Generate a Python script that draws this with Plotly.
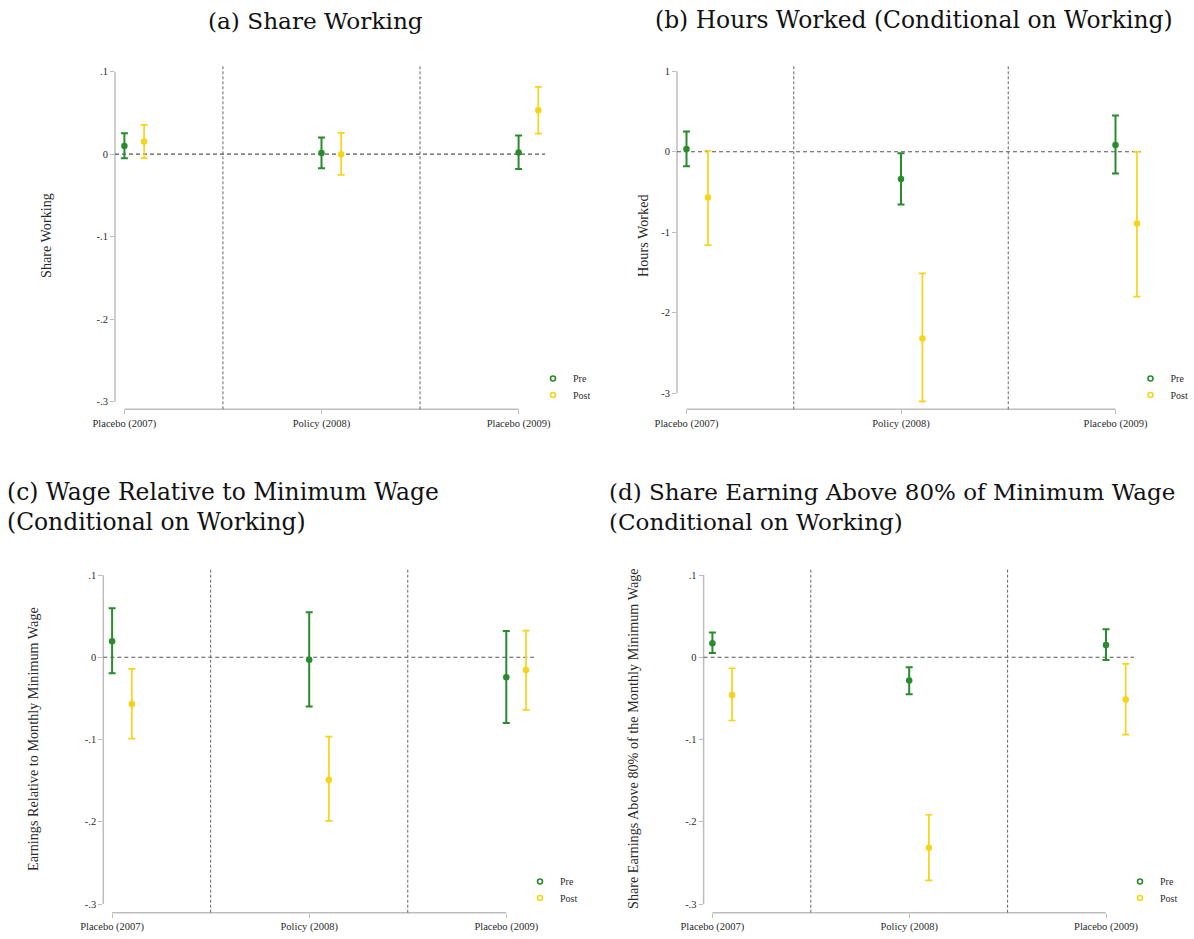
import plotly.graph_objects as go

# ---------------- data ----------------
categories = ["Placebo (2007)", "Policy (2008)", "Placebo (2009)"]
cat_pos = [0, 1, 2]
post_shift = 0.1

# (a) Share Working
a_pre = [0.0100, 0.0016, 0.0020]
a_pre_lo = [-0.0050, -0.0170, -0.0180]
a_pre_hi = [0.0255, 0.0202, 0.0226]
a_post = [0.0154, 0.0000, 0.0533]
a_post_lo = [-0.0048, -0.0250, 0.0250]
a_post_hi = [0.0356, 0.0259, 0.0816]

# (b) Hours Worked
b_pre = [0.033, -0.34, 0.083]
b_pre_lo = [-0.18, -0.655, -0.27]
b_pre_hi = [0.25, -0.02, 0.45]
b_post = [-0.57, -2.32, -0.89]
b_post_lo = [-1.16, -3.10, -1.80]
b_post_hi = [0.012, -1.51, 0.0]

# (c) Wage relative to minimum wage
c_pre = [0.0195, -0.0030, -0.0243]
c_pre_lo = [-0.0195, -0.0600, -0.0800]
c_pre_hi = [0.0596, 0.0547, 0.0320]
c_post = [-0.0567, -0.1490, -0.0154]
c_post_lo = [-0.0990, -0.1990, -0.0640]
c_post_hi = [-0.0142, -0.0965, 0.0324]

# (d) Share earning above 80% of minimum wage
d_pre = [0.0170, -0.0284, 0.0150]
d_pre_lo = [0.0053, -0.0450, -0.0032]
d_pre_hi = [0.0300, -0.0122, 0.0340]
d_post = [-0.0458, -0.2316, -0.0515]
d_post_lo = [-0.0769, -0.2713, -0.0940]
d_post_hi = [-0.0134, -0.1915, -0.0081]

ab_ticks = [0.1, 0.0, -0.1, -0.2, -0.3]
ab_ticktext = [".1", "0", "-.1", "-.2", "-.3"]
b_ticks = [1, 0, -1, -2, -3]
b_ticktext = ["1", "0", "-1", "-2", "-3"]

series_names = ["Pre", "Post"]

titles = [
    "(a) Share Working",
    "(b) Hours Worked (Conditional on Working)",
    "(c) Wage Relative to Minimum Wage<br>(Conditional on Working)",
    "(d) Share Earning Above 80% of Minimum Wage<br>(Conditional on Working)",
]
ytitles = [
    "Share Working",
    "Hours Worked",
    "Earnings Relative to Monthly Minimum Wage",
    "Share Earnings Above 80% of the Monthly Minimum Wage",
]

# ---------------- layout geometry (pixels) ----------------
W, H = 1194, 939
GREEN = "#2a8a2e"
YELLOW = "#f7d31a"
AXC = "#bdbdbd"
DASH = "#666666"
TXT = "#2a2a2a"

panels = [
    dict(data=(a_pre, a_pre_lo, a_pre_hi, a_post, a_post_lo, a_post_hi),
         yax=115, c0=124.4, c2=518.6, right=545, top=65, bottom=409.3,
         yt=(0.1, 71.7), yb=(-0.3, 401.7), ticks=(ab_ticks, ab_ticktext),
         title_xy=(315, 20), title_anchor="center", title_size=23.2,
         ytitle_xy=(46, 236), leg=(561, 378, 394.5)),
    dict(data=(b_pre, b_pre_lo, b_pre_hi, b_post, b_post_lo, b_post_hi),
         yax=677, c0=686.5, c2=1115.5, right=1141, top=65, bottom=409.3,
         yt=(1, 71.2), yb=(-3, 393.3), ticks=(b_ticks, b_ticktext),
         title_xy=(913.5, 20), title_anchor="center", title_size=23.4,
         ytitle_xy=(643, 236), leg=(1158.5, 378, 394.5)),
    dict(data=(c_pre, c_pre_lo, c_pre_hi, c_post, c_post_lo, c_post_hi),
         yax=103.3, c0=112.1, c2=506.3, right=534, top=568, bottom=912.7,
         yt=(0.1, 575), yb=(-0.3, 904), ticks=(ab_ticks, ab_ticktext),
         title_xy=(5, 507), title_anchor="left", title_size=23.4,
         ytitle_xy=(33, 739), leg=(548, 881, 897.5)),
    dict(data=(d_pre, d_pre_lo, d_pre_hi, d_post, d_post_lo, d_post_hi),
         yax=703.6, c0=712.4, c2=1106, right=1134, top=568, bottom=912.7,
         yt=(0.1, 575), yb=(-0.3, 904), ticks=(ab_ticks, ab_ticktext),
         title_xy=(607, 507), title_anchor="left", title_size=23.0,
         ytitle_xy=(633, 739), leg=(1148, 881, 897.5)),
]

fig = go.Figure()
layout = dict(width=W, height=H, autosize=False,
              margin=dict(l=0, r=0, t=0, b=0, pad=0, autoexpand=False),
              paper_bgcolor="white", plot_bgcolor="white",
              font=dict(family="Liberation Serif", color=TXT, size=10))
shapes = []
annotations = []
leg_count = 0

for i, p in enumerate(panels):
    k = "" if i == 0 else str(i + 1)
    xa, ya = "x" + k, "y" + k
    pre, pre_lo, pre_hi, post, post_lo, post_hi = p["data"]
    xpre = [c for c in cat_pos]
    xpost = [c + post_shift for c in cat_pos]

    fig.add_trace(go.Scatter(
        x=xpre, y=pre, mode="markers", xaxis=xa, yaxis=ya, showlegend=False,
        marker=dict(color=GREEN, size=6.5),
        error_y=dict(type="data", symmetric=False,
                     array=[h - v for h, v in zip(pre_hi, pre)],
                     arrayminus=[v - l for v, l in zip(pre, pre_lo)],
                     color=GREEN, thickness=2, width=3.5)))
    fig.add_trace(go.Scatter(
        x=xpost, y=post, mode="markers", xaxis=xa, yaxis=ya, showlegend=False,
        marker=dict(color=YELLOW, size=6.5),
        error_y=dict(type="data", symmetric=False,
                     array=[h - v for h, v in zip(post_hi, post)],
                     arrayminus=[v - l for v, l in zip(post, post_lo)],
                     color=YELLOW, thickness=1.7, width=3.5)))

    # legend entries: one legend per entry so their spacing can match
    lx, ly1, ly2 = p["leg"]
    for name, col, ly in zip(series_names, [GREEN, YELLOW], [ly1, ly2]):
        leg_count += 1
        lname = "legend" if leg_count == 1 else "legend" + str(leg_count)
        fig.add_trace(go.Scatter(x=[None], y=[None], mode="markers", name=name,
                                 xaxis=xa, yaxis=ya, legend=lname,
                                 marker=dict(color=col, size=5, symbol="circle-open",
                                             line=dict(width=1.6))))
        layout[lname] = dict(x=(lx - 28) / W, y=1 - (ly - 14) / H,
                             xanchor="left", yanchor="top",
                             bgcolor="rgba(0,0,0,0)", borderwidth=0,
                             font=dict(family="Liberation Serif", size=10, color=TXT),
                             itemwidth=30)

    ppx = (p["c2"] - p["c0"]) / 2.0
    xr = [(p["yax"] - p["c0"]) / ppx, (p["right"] - p["c0"]) / ppx]
    (ytv, ytp), (ybv, ybp) = p["yt"], p["yb"]
    ppy = (ybp - ytp) / (ytv - ybv)
    yr = [ybv - (p["bottom"] - ybp) / ppy, ytv + (ytp - p["top"]) / ppy]

    layout["xaxis" + k] = dict(
        domain=[p["yax"] / W, p["right"] / W], range=xr, anchor=ya,
        tickvals=cat_pos, ticktext=categories, ticks="outside", ticklen=4,
        tickcolor=AXC, showgrid=False, zeroline=False, showline=False,
        automargin=False,
        tickfont=dict(family="Liberation Serif", size=10.5, color=TXT))
    layout["yaxis" + k] = dict(
        domain=[1 - p["bottom"] / H, 1 - p["top"] / H], range=yr, anchor=xa,
        tickvals=p["ticks"][0], ticktext=p["ticks"][1], ticks="outside",
        ticklen=4, tickcolor=AXC, showgrid=False, zeroline=False, showline=False,
        automargin=False,
        tickfont=dict(family="Liberation Serif", size=10.5, color=TXT))

    # axis lines
    shapes.append(dict(type="line", xref=xa + " domain", yref=ya,
                       x0=0, x1=0, y0=ybv, y1=ytv,
                       line=dict(color=AXC, width=1.5), layer="below"))
    shapes.append(dict(type="line", xref=xa, yref=ya + " domain",
                       x0=cat_pos[0], x1=cat_pos[-1], y0=0, y1=0,
                       line=dict(color=AXC, width=1.5), layer="below"))
    # zero reference line
    shapes.append(dict(type="line", xref=xa + " domain", yref=ya,
                       x0=0, x1=1, y0=0, y1=0,
                       line=dict(color="#555555", width=1.2, dash="4px,3px"),
                       layer="below"))
    # separators
    for s in [0.5, 1.5]:
        shapes.append(dict(type="line", xref=xa, yref=ya + " domain",
                           x0=s, x1=s, y0=0, y1=1,
                           line=dict(color=DASH, width=1, dash="3px,2px"),
                           layer="below"))

    # titles
    tx, ty = p["title_xy"]
    annotations.append(dict(text=titles[i], xref="paper", yref="paper",
                            x=tx / W, y=1 - ty / H, xanchor=p["title_anchor"],
                            yanchor="middle", align="left", showarrow=False,
                            font=dict(family="DejaVu Serif", size=p["title_size"],
                                      color="#111111")))
    yx, yy = p["ytitle_xy"]
    annotations.append(dict(text=ytitles[i], xref="paper", yref="paper",
                            x=yx / W, y=1 - yy / H, xanchor="center", yanchor="middle",
                            textangle=-90, showarrow=False,
                            font=dict(family="Liberation Serif", size=14.2, color=TXT)))

layout["shapes"] = shapes
layout["annotations"] = annotations
fig.update_layout(**layout)
fig.write_html("out.html")
